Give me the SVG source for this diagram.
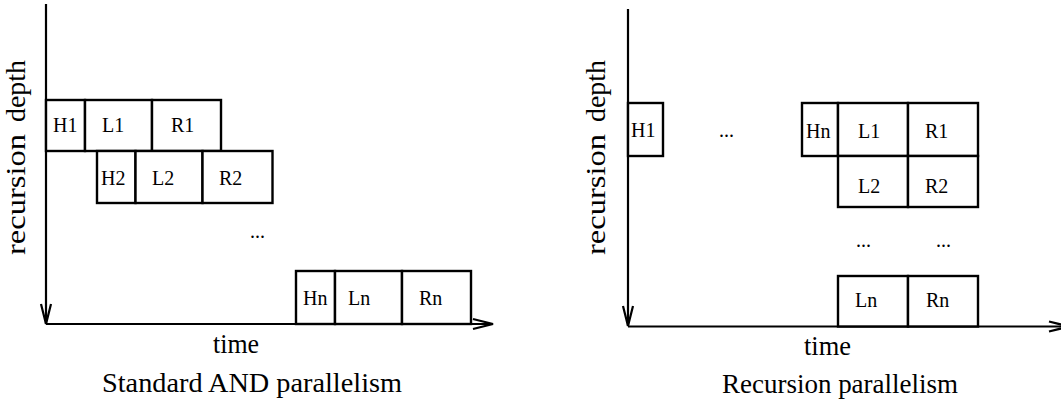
<svg xmlns="http://www.w3.org/2000/svg" width="1061" height="404" viewBox="0 0 1061 404">
<style>
.box{fill:#fff;stroke:#000;stroke-width:2.4}
.ax{fill:none;stroke:#000;stroke-width:2.2}
.lb{font-family:"Liberation Serif","Times New Roman",serif;font-size:20px;fill:#000}
.big{font-family:"Liberation Serif","Times New Roman",serif;font-size:28px;fill:#000}
</style>
<defs>
<marker id="arr" markerUnits="userSpaceOnUse" viewBox="0 0 24 12" markerWidth="24" markerHeight="12" refX="21" refY="6" orient="auto" overflow="visible">
<path d="M1,1 L21,6 L1,11" fill="none" stroke="#000" stroke-width="2.2"/>
</marker>
</defs>
<rect width="1061" height="404" fill="#fff"/>
<g id="connectors">
<line class="ax" x1="46" y1="4" x2="46" y2="324" marker-end="url(#arr)"/>
<line class="ax" x1="46" y1="324" x2="493" y2="324" marker-end="url(#arr)"/>
<line class="ax" x1="628" y1="9" x2="628" y2="326" marker-end="url(#arr)"/>
<line class="ax" x1="628" y1="326.5" x2="1069" y2="326.5" marker-end="url(#arr)"/>
</g>
<g id="left-labels">
<text class="big" transform="translate(25,255) rotate(-90)" textLength="121" lengthAdjust="spacingAndGlyphs">recursion</text>
<text class="big" transform="translate(25,122) rotate(-90)" textLength="62" lengthAdjust="spacingAndGlyphs">depth</text>
<text class="big" x="213" y="353" textLength="46" lengthAdjust="spacingAndGlyphs">time</text>
<text class="big" x="102" y="392" textLength="300" lengthAdjust="spacingAndGlyphs">Standard AND parallelism</text>
<text class="lb" x="250" y="238">...</text>
</g>
<g id="L-H1"><rect class="box" x="46" y="100" width="39" height="51"/><text class="lb" x="53" y="132">H1</text></g>
<g id="L-L1"><rect class="box" x="85" y="100" width="67" height="51"/><text class="lb" x="102" y="132">L1</text></g>
<g id="L-R1"><rect class="box" x="152" y="100" width="69" height="51"/><text class="lb" x="171" y="132">R1</text></g>
<g id="L-H2"><rect class="box" x="97" y="151" width="38.5" height="52"/><text class="lb" x="101" y="185">H2</text></g>
<g id="L-L2"><rect class="box" x="135.5" y="151" width="67" height="52"/><text class="lb" x="152" y="185">L2</text></g>
<g id="L-R2"><rect class="box" x="202.5" y="151" width="70" height="52"/><text class="lb" x="219" y="185">R2</text></g>
<g id="L-Hn"><rect class="box" x="296" y="271" width="39" height="53"/><text class="lb" x="303" y="305">Hn</text></g>
<g id="L-Ln"><rect class="box" x="335" y="271" width="67" height="53"/><text class="lb" x="348" y="305">Ln</text></g>
<g id="L-Rn"><rect class="box" x="402" y="271" width="69" height="53"/><text class="lb" x="419" y="305">Rn</text></g>
<g id="right-labels">
<text class="big" transform="translate(605,255) rotate(-90)" textLength="121" lengthAdjust="spacingAndGlyphs">recursion</text>
<text class="big" transform="translate(605,122) rotate(-90)" textLength="62" lengthAdjust="spacingAndGlyphs">depth</text>
<text class="big" x="804" y="355" textLength="47" lengthAdjust="spacingAndGlyphs">time</text>
<text class="big" x="722" y="393" textLength="236" lengthAdjust="spacingAndGlyphs">Recursion parallelism</text>
<text class="lb" x="719" y="137">...</text>
<text class="lb" x="856" y="247">...</text>
<text class="lb" x="936" y="247">...</text>
</g>
<g id="R-H1"><rect class="box" x="628" y="103" width="35" height="53"/><text class="lb" x="631" y="137">H1</text></g>
<g id="R-Hn"><rect class="box" x="802" y="103" width="36" height="53"/><text class="lb" x="806" y="138">Hn</text></g>
<g id="R-L1"><rect class="box" x="838" y="103" width="70" height="53"/><text class="lb" x="858" y="138">L1</text></g>
<g id="R-R1"><rect class="box" x="908" y="103" width="70" height="53"/><text class="lb" x="925" y="138">R1</text></g>
<g id="R-L2"><rect class="box" x="838" y="156" width="70" height="51"/><text class="lb" x="858" y="193">L2</text></g>
<g id="R-R2"><rect class="box" x="908" y="156" width="70" height="51"/><text class="lb" x="925" y="193">R2</text></g>
<g id="R-Ln"><rect class="box" x="838" y="276" width="70" height="50.5"/><text class="lb" x="855" y="307">Ln</text></g>
<g id="R-Rn"><rect class="box" x="908" y="276" width="70" height="50.5"/><text class="lb" x="926" y="307">Rn</text></g>
</svg>
